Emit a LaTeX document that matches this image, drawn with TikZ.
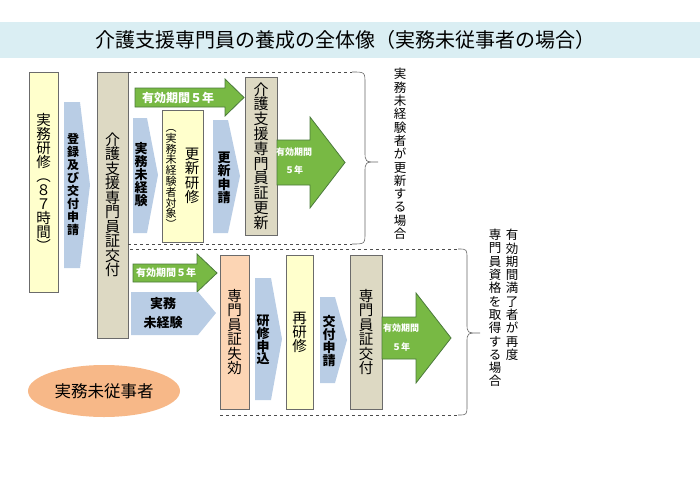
\documentclass[tikz,border=0pt]{standalone}
\usepackage{fontspec}
\setmainfont{Noto Sans CJK JP}
\usetikzlibrary{positioning,shapes.geometric}
\definecolor{band}{HTML}{DAEEF3}
\definecolor{paleyellow}{HTML}{FFFFCC}
\definecolor{tan}{HTML}{DDD9C3}
\definecolor{peach}{HTML}{FCD5B4}
\definecolor{chevblue}{HTML}{B9CDE5}
\definecolor{leaf}{HTML}{78B944}
\definecolor{leafline}{HTML}{4B7A3B}
\definecolor{edge}{HTML}{6B6B6B}
\definecolor{oval}{HTML}{F7B888}
\newcommand{\vfont}[2]{\fontsize{#1}{#2}\selectfont}

\tikzset{
  card/.style={draw=edge,line width=0.8pt,inner sep=0pt,align=center},
  yellowcard/.style={card,fill=paleyellow},
  tancard/.style={card,fill=tan},
  peachcard/.style={card,fill=peach},
  chevron/.style={fill=chevblue},
  blockarrow/.style={fill=leaf,draw=leafline,line width=0.8pt,line join=miter},
  vlabel/.style={inner sep=0pt,align=center},
  note/.style={vlabel,font=\vfont{12.5}{13.3}},
  period/.style={inner sep=0pt,text=white,font=\bfseries\vfont{9}{11}},
  fence/.style={draw=black!70,dashed,line width=0.6pt},
  brace/.style={draw=black!60,line width=0.6pt}
}

\begin{document}
\begin{tikzpicture}[x=1pt,y=-1pt]
  \useasboundingbox (0,0) rectangle (700,495);
  % title band
  \fill[band] (0,22) rectangle (700,58);
  \node[inner sep=0pt,font=\vfont{20}{24}] (title) at (345,40) {介護支援専門員の養成の全体像（実務未従事者の場合）};

  % training and first issue
  \node[yellowcard,minimum width=29,minimum height=220,font=\vfont{14.5}{14}] (training) at (43.5,182) {実\\務\\研\\修\\︵\\８\\７\\時\\間\\︶};
  \fill[chevron] (64,102) -- (80,102) -- (90,185) -- (80,268) -- (64,268) -- cycle;
  \node[vlabel,font=\bfseries\vfont{12}{13}] (apply) at (73,184) {登\\録\\及\\び\\交\\付\\申\\請};
  \node[tancard,minimum width=31,minimum height=266,font=\vfont{15}{14.5}] (issue) at (112.5,205) {介\\護\\支\\援\\専\\門\\員\\証\\交\\付};

  % renewal without experience
  \draw[fence] (128,72) -- (352,72) (128,244) -- (352,244);
  \draw[brace] (352,72) .. controls (365,72) .. (365,84) -- (365,151)
    .. controls (365,162) .. (378,162) .. controls (365,162) .. (365,173)
    -- (365,232) .. controls (365,244) .. (352,244);
  \draw[blockarrow] (135,88) -- (225,88) -- (225,79) -- (244,97.5) -- (225,116) -- (225,107) -- (135,107) -- cycle;
  \node[period,font=\bfseries\vfont{12}{14}] (valid1) at (178,98) {有効期間５年};
  \fill[chevron] (133,118) -- (147,118) -- (158,175) -- (147,233) -- (133,233) -- cycle;
  \node[vlabel,font=\bfseries\vfont{13}{13}] (noexp1) at (141,175) {実\\務\\未\\経\\験};
  \node[yellowcard,minimum width=41,minimum height=132] (renewtrain) at (182.5,176) {};
  \node[vlabel,font=\vfont{14.5}{14.5}] (renewtitle) at (192,176) {更\\新\\研\\修};
  \node[vlabel,font=\vfont{11}{10.8}] (renewtarget) at (171,179) {︵\\実\\務\\未\\経\\験\\者\\対\\象\\︶};
  \fill[chevron] (213,120) -- (228,120) -- (240,176) -- (228,233) -- (213,233) -- cycle;
  \node[vlabel,font=\bfseries\vfont{13}{13.5}] (renewapply) at (224,178) {更\\新\\申\\請};
  \node[tancard,minimum width=32,minimum height=158,font=\vfont{15}{14.8}] (renewed) at (261,156) {介\\護\\支\\援\\専\\門\\員\\証\\更\\新};
  \draw[blockarrow] (277,140) -- (310,140) -- (310,117) -- (345,162.5) -- (310,208) -- (310,185) -- (277,185) -- cycle;
  \node[period] (valid2a) at (294,152) {有効期間};
  \node[period] (valid2b) at (294,170) {５年};
  \node[note] (caseA) at (400,154) {実\\務\\未\\経\\験\\者\\が\\更\\新\\す\\る\\場\\合};

  % expired and reissued
  \draw[fence] (130,249) -- (458,249) (220,415) -- (458,415);
  \draw[brace] (458,249) .. controls (467,249) .. (467,259) -- (467,323)
    .. controls (467,333) .. (480,333) .. controls (467,333) .. (467,343)
    -- (467,405) .. controls (467,415) .. (458,415);
  \draw[blockarrow] (133,264) -- (197,264) -- (197,254) -- (217,273) -- (197,292) -- (197,282) -- (133,282) -- cycle;
  \node[period,font=\bfseries\vfont{10}{12}] (valid3) at (166,273) {有効期間５年};
  \fill[chevron] (131,292) -- (198,292) -- (216,313) -- (198,335) -- (131,335) -- cycle;
  \node[vlabel,font=\bfseries\vfont{13}{19.5}] (noexp2) at (163,313) {実務\\未経験};
  \node[peachcard,minimum width=29,minimum height=154,font=\vfont{14.5}{14.5}] (expired) at (234.5,332) {専\\門\\員\\証\\失\\効};
  \fill[chevron] (255,278) -- (271,278) -- (282,339) -- (271,400) -- (255,400) -- cycle;
  \node[vlabel,font=\bfseries\vfont{13}{12.8}] (retrainapply) at (263,340) {研\\修\\申\\込};
  \node[yellowcard,minimum width=27,minimum height=154,font=\vfont{14.5}{14}] (retrain) at (299.5,332) {再\\研\\修};
  \fill[chevron] (320,297) -- (335,297) -- (347,340) -- (335,383) -- (320,383) -- cycle;
  \node[vlabel,font=\bfseries\vfont{13}{13}] (reissueapply) at (329,341) {交\\付\\申\\請};
  \node[tancard,minimum width=32,minimum height=154,font=\vfont{14.5}{14.5}] (reissue) at (366,332) {専\\門\\員\\証\\交\\付};
  \draw[blockarrow] (382,317) -- (416,317) -- (416,293) -- (451,338) -- (416,383) -- (416,359) -- (382,359) -- cycle;
  \node[period] (valid4a) at (401,328) {有効期間};
  \node[period] (valid4b) at (401,347) {５年};
  \node[note,anchor=north] (caseB1) at (512,229) {有\\効\\期\\間\\満\\了\\者\\が\\再\\度};
  \node[note,anchor=north] (caseB2) at (495,229) {専\\門\\員\\資\\格\\を\\取\\得\\す\\る\\場\\合};

  % group label
  \node[ellipse,fill=oval,minimum width=152,minimum height=52,font=\vfont{16.5}{18}] (novice) at (104,391) {実務未従事者};
\end{tikzpicture}
\end{document}
